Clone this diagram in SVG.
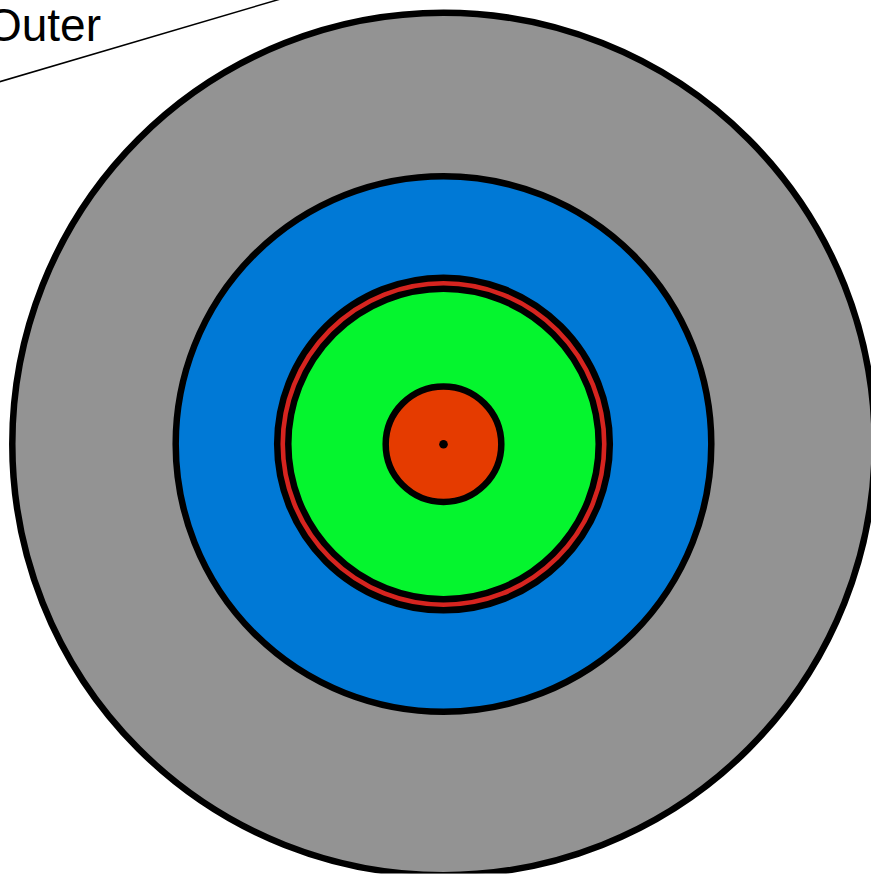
<svg xmlns="http://www.w3.org/2000/svg" width="871" height="878" viewBox="0 0 871 878">
  <style>
    .ring { stroke: #000000; stroke-width: 6.5; }
    .label { font-family: "Liberation Sans", Arial, sans-serif; font-size: 46px; fill: #000000; }
    .leader { stroke: #000000; stroke-width: 1.5; fill: none; }
  </style>
  <defs>
    <clipPath id="page">
      <rect x="0" y="0" width="871" height="873.5"/>
    </clipPath>
  </defs>
  <rect x="0" y="0" width="871" height="878" fill="#ffffff"/>
  <g clip-path="url(#page)">
    <g id="outer">
      <circle class="ring" cx="443.5" cy="444" r="431.2" fill="#939393" stroke-width="7"/>
    </g>
    <g id="blue">
      <circle class="ring" cx="443.5" cy="444" r="267.8" fill="#0079d6"/>
    </g>
    <g id="red-ring">
      <circle class="ring" cx="443.5" cy="444" r="166.3" fill="#d6241f"/>
    </g>
    <g id="green">
      <circle class="ring" cx="443.5" cy="444" r="155.2" fill="#05f52e"/>
    </g>
    <g id="core">
      <circle class="ring" cx="443.5" cy="444.2" r="57.8" fill="#e53b00"/>
    </g>
    <g id="center">
      <circle cx="443.5" cy="444.3" r="4.3" fill="#000000"/>
    </g>
    <g id="connectors">
      <line class="leader" x1="-10" y1="84.6" x2="290" y2="-3.8"/>
    </g>
    <g id="outer-label">
      <text class="label" x="101" y="40.5" text-anchor="end">Outer</text>
    </g>
  </g>
</svg>
